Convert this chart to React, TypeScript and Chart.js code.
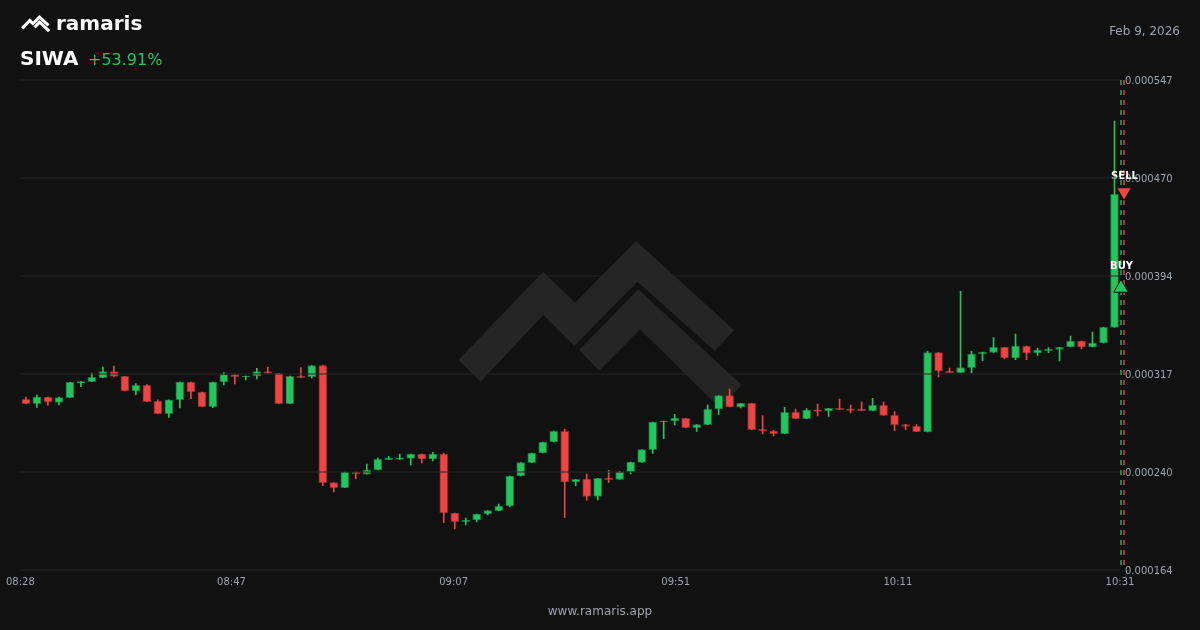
import React, { useEffect, useRef } from "react";
import { Chart, registerables } from "chart.js";

Chart.register(...registerables);

// Prices in millionths.
const opens = [297.4,294.0,299.2,295.05,298.7,310.2,311.2,314.3,319.0,315.4,303.9,308.3,296.1,286.2,297.1,310.95,303.1,291.67,310.95,316.7,314.86,315.64,319.0,317.7,294.0,315.4,315.1,323.7,232.3,228.35,240.6,239.0,242.16,250.24,250.5,251.28,254.67,250.76,254.67,208.55,201.78,203.08,207.77,210.38,214.02,237.47,247.89,255.45,264.05,272.38,232.78,235.13,221.58,235.91,234.87,240.86,248.16,258.06,279.68,280.46,282.55,275.25,277.6,289.84,300.26,291.41,294.27,273.95,272.65,270.56,287.24,282.29,289.06,288.28,290.36,289.84,289.84,288.54,292.71,284.89,277.6,276.29,271.87,333.87,319.54,318.24,322.15,332.83,334.13,338.04,329.7,339.08,333.61,335.44,336.48,338.3,342.99,338.3,341.43,353.67];
const highs = [299.2,300.8,299.2,299.2,310.7,311.2,318.0,322.67,323.45,315.4,309.65,308.9,297.1,297.1,310.95,310.95,303.1,310.95,318.5,316.7,315.64,321.63,322.67,317.7,315.64,322.15,323.7,324.2,232.3,240.6,240.6,246.85,251.54,252.84,254.67,254.67,254.67,255.97,255.45,208.55,204.64,207.77,210.38,215.59,237.47,247.89,255.45,264.05,272.64,274.21,234.87,239.04,235.65,241.9,241.12,248.41,258.06,279.68,280.46,285.67,282.55,277.6,292.97,300.26,305.48,294.27,294.27,284.63,273.17,291.15,289.84,290.1,293.75,290.36,297.66,292.97,295.31,298.18,295.31,287.76,277.86,277.6,334.91,333.87,321.89,381.81,334.91,334.39,345.6,338.04,348.46,339.08,337.52,337.78,338.04,346.9,342.99,350.03,353.67,514.95];
const lows = [294.0,291.15,292.7,293.0,298.7,307.3,311.2,314.3,315.4,303.9,301.05,295.6,286.2,283.3,290.6,297.9,291.67,290.9,308.6,309.4,312.5,313.3,317.7,294.0,294.0,314.3,314.1,229.9,224.96,228.35,235.4,239.0,242.16,250.24,250.5,246.07,247.63,249.2,201.0,196.05,199.17,201.52,206.98,210.38,213.24,237.47,247.89,255.45,264.05,204.9,229.66,218.45,218.71,232.26,234.87,239.04,248.16,255.19,266.65,277.34,275.25,272.39,277.6,285.41,291.41,290.62,273.69,270.3,268.74,270.56,282.29,282.29,284.37,284.11,289.32,286.72,288.54,288.54,284.89,272.91,273.69,272.13,271.87,314.85,318.24,318.24,318.24,327.62,334.13,328.92,328.4,328.4,331.79,333.87,327.36,338.3,336.74,338.3,341.43,353.67];
const closes = [294.0,299.2,295.3,298.7,310.7,311.2,314.6,319.0,315.4,303.9,308.3,295.6,286.2,297.1,310.95,303.1,291.67,310.95,316.7,315.1,315.64,319.0,317.7,294.0,315.4,314.3,323.7,232.3,228.35,240.6,239.3,242.16,250.5,251.54,251.54,254.67,250.76,254.67,208.55,201.78,203.08,207.77,210.38,214.02,237.47,247.89,255.45,264.05,272.38,232.78,234.87,221.58,235.65,234.61,240.6,248.41,258.06,279.68,280.46,282.81,275.25,277.6,289.84,300.26,291.41,294.27,273.69,272.65,270.56,287.24,282.29,289.06,288.02,290.36,289.32,288.8,288.54,292.71,284.89,277.6,276.29,272.13,333.87,319.54,318.24,322.15,332.83,334.39,338.04,329.7,339.08,333.61,335.96,336.48,338.04,342.99,338.3,341.43,353.67,457.66];

const timeLabels = ["08:28", "08:47", "09:07", "09:51", "10:11", "10:31"];
const timeTickIndexes = [0, 19, 39, 59, 79, 99];
const priceTickValues = [164, 240.6, 317.2, 393.8, 470.4, 547];
const priceTickLabels = ["0.000164", "0.000240", "0.000317", "0.000394", "0.000470", "0.000547"];

const buyPrice = 384.42;
const sellPrice = 459.46;
const buySlot = 99.591;
const sellSlot = 99.864;

const UP = "#22c55e";
const DOWN = "#ef4444";
const UP_EDGE = "rgba(34,197,94,0.5)";
const DOWN_EDGE = "rgba(239,68,68,0.5)";
const BG = "#111111";
const MUTED = "#9ca3af";
const FONT = "'DejaVu Sans', sans-serif";

const micro = (v: number) => v / 1e6;
const slots = opens.map((_, i) => i);
const isUp = (i: number) => closes[i] >= opens[i];
const candleColors = slots.map((i) => (isUp(i) ? UP : DOWN));
const candleEdges = slots.map((i) => (isUp(i) ? UP_EDGE : DOWN_EDGE));

const upperMark = "458.3,360 543.3,271.7 575,302.7 636,241 734,330 715,351 637.3,281.7 574.3,346 543.3,315 480.7,381.7";
const lowerMark = "579.3,350 638.3,289.3 741.7,385 720,408 640,329.3 599,370.7";

const tradeLabels = {
  id: "tradeLabels",
  afterDatasetsDraw(chart: any) {
    const { ctx, scales } = chart;
    ctx.save();
    ctx.font = `bold 10px ${FONT}`;
    ctx.fillStyle = "#ffffff";
    ctx.textAlign = "center";
    ctx.textBaseline = "middle";
    ctx.fillText("BUY", scales.x.getPixelForValue(buySlot) + 0.5, scales.y.getPixelForValue(micro(buyPrice)) - 21.5);
    ctx.fillText("SELL", scales.x.getPixelForValue(sellSlot) + 0.5, scales.y.getPixelForValue(micro(sellPrice)) - 15.5);
    ctx.restore();
  },
};

const abs = (o: React.CSSProperties): React.CSSProperties => ({ position: "absolute", whiteSpace: "nowrap", fontFamily: FONT, ...o });

export default function App() {
  const ref = useRef<HTMLCanvasElement>(null);
  useEffect(() => {
    document.body.style.margin = "0";
    document.body.style.background = BG;
    const chart = new Chart(ref.current as HTMLCanvasElement, {
      type: "bar",
      plugins: [tradeLabels],
      data: {
        datasets: [
          {
            type: "scatter",
            order: 0,
            clip: false,
            data: [{ x: buySlot, y: micro(buyPrice) }],
            pointStyle: "triangle",
            pointRadius: 8.5,
            pointBackgroundColor: UP,
            pointBorderColor: BG,
            pointBorderWidth: 1,
          },
          {
            type: "scatter",
            order: 0,
            clip: false,
            data: [{ x: sellSlot, y: micro(sellPrice) }],
            pointStyle: "triangle",
            pointRotation: 180,
            pointRadius: 8.5,
            pointBackgroundColor: DOWN,
            pointBorderColor: BG,
            pointBorderWidth: 1,
          },
          {
            type: "bar",
            order: 2,
            grouped: false,
            barThickness: 8,
            data: slots.map((i) => ({ x: i, y: [micro(opens[i]), micro(closes[i])] })),
            backgroundColor: candleColors,
            borderColor: candleEdges,
            borderWidth: 1,
            borderSkipped: false,
          },
          {
            type: "bar",
            order: 3,
            grouped: false,
            barThickness: 1,
            data: slots.map((i) => ({ x: i, y: [micro(lows[i]), micro(highs[i])] })),
            backgroundColor: candleColors,
            borderWidth: 0,
          },
          {
            type: "line",
            order: 4,
            clip: false,
            data: [
              { x: buySlot, y: micro(547) },
              { x: buySlot, y: micro(164) },
            ],
            borderColor: "rgba(34,197,94,0.65)",
            borderWidth: 2,
            borderDash: [5, 5],
            pointRadius: 0,
          },
          {
            type: "line",
            order: 4,
            clip: false,
            data: [
              { x: sellSlot, y: micro(547) },
              { x: sellSlot, y: micro(164) },
            ],
            borderColor: "rgba(239,68,68,0.7)",
            borderWidth: 2,
            borderDash: [5, 5],
            pointRadius: 0,
          },
        ] as any,
      },
      options: {
        animation: false,
        responsive: false,
        maintainAspectRatio: false,
        layout: { padding: { left: 20, right: 0, top: 80, bottom: 0 } },
        plugins: { legend: { display: false }, tooltip: { enabled: false }, title: { display: false } },
        scales: {
          x: { type: "linear", min: -0.5, max: 99.5, offset: false, grid: { offset: false }, display: false },
          timeAxis: {
            type: "linear",
            position: "bottom",
            min: 0,
            max: 99,
            offset: false,
            grid: { display: false, drawTicks: false, offset: false },
            border: { display: false },
            afterBuildTicks(scale: any) {
              scale.ticks = timeTickIndexes.map((value) => ({ value }));
            },
            afterFit(scale: any) {
              scale.height = 60;
            },
            ticks: {
              autoSkip: false,
              maxRotation: 0,
              padding: 6,
              color: MUTED,
              font: { family: FONT, size: 10 },
              callback: (_v: any, i: number) => timeLabels[i],
            },
          },
          y: {
            type: "linear",
            position: "right",
            min: micro(164),
            max: micro(547),
            border: { display: false },
            grid: { color: "rgba(38,38,38,0.5)", lineWidth: 2, drawTicks: false, z: 1 },
            afterBuildTicks(scale: any) {
              scale.ticks = priceTickValues.map((v) => ({ value: micro(v) }));
            },
            afterFit(scale: any) {
              scale.width = 80;
            },
            ticks: {
              padding: 5,
              labelOffset: 1,
              color: MUTED,
              font: { family: FONT, size: 10 },
              callback: (_v: any, i: number) => priceTickLabels[i],
            },
          },
        },
      } as any,
    });
    return () => chart.destroy();
  }, []);

  return (
    <div style={{ position: "absolute", left: 0, top: 0, width: 1200, height: 630, background: BG, overflow: "hidden" }}>
      <svg width={1200} height={630} style={{ position: "absolute", left: 0, top: 0 }}>
        <g fill="rgba(255,255,255,0.085)">
          <polygon points={upperMark} />
          <polygon points={lowerMark} />
        </g>
      </svg>
      <canvas ref={ref} width={1200} height={630} style={{ position: "absolute", left: 0, top: 0, display: "block" }} />
      <svg width={29.3} height={17.3} viewBox="458 241 284 167" style={{ position: "absolute", left: 20.7, top: 15 }}>
        <g fill="#ffffff">
          <polygon points={upperMark} />
          <polygon points={lowerMark} />
        </g>
      </svg>
      <div style={abs({ left: 56, top: 11, fontSize: 20, lineHeight: "24px", fontWeight: 700, color: "#ffffff" })}>ramaris</div>
      <div style={abs({ left: 20, top: 46, fontSize: 20, lineHeight: "24px", fontWeight: 700, color: "#ffffff" })}>SIWA</div>
      <div style={abs({ left: 88, top: 50, fontSize: 16, lineHeight: "20px", color: UP })}>+53.91%</div>
      <div style={abs({ right: 20, top: 23, fontSize: 12, lineHeight: "16px", color: MUTED })}>Feb 9, 2026</div>
      <div style={abs({ left: 0, width: 1200, textAlign: "center", top: 603, fontSize: 12, lineHeight: "16px", color: MUTED })}>www.ramaris.app</div>
    </div>
  );
}
